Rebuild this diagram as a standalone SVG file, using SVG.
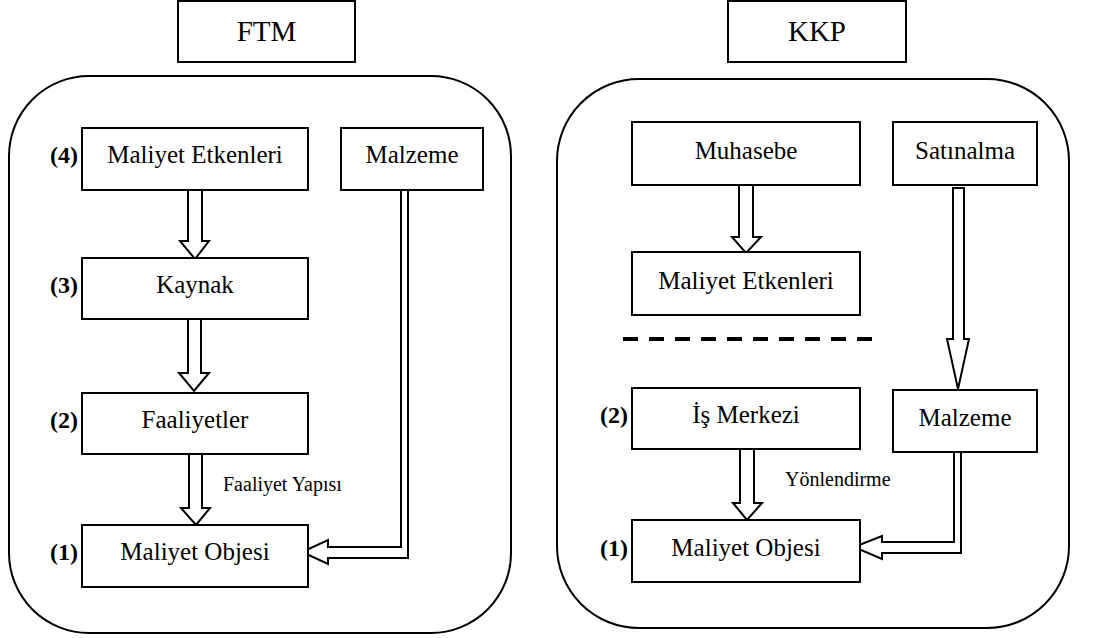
<svg xmlns="http://www.w3.org/2000/svg" width="1106" height="638" viewBox="0 0 1106 638">
  <style>
    .box { fill: #fff; stroke: #000; stroke-width: 2; }
    .panel { fill: none; stroke: #000; stroke-width: 2; }
    .arrow { fill: #fff; stroke: #000; stroke-width: 2; stroke-linejoin: miter; }
    text { font-family: 'Liberation Serif', Tinos, 'Times New Roman', 'DejaVu Serif', 'Noto Serif', serif; fill: #000; }
    .txt { font-size: 25px; text-anchor: middle; }
    .title { font-size: 29px; text-anchor: middle; }
    .num { font-size: 24px; font-weight: bold; text-anchor: end; }
    .note { font-size: 20px; }
  </style>
  <rect width="1106" height="638" fill="#fff"/>

  <!-- panel frames -->
  <g id="panels">
    <rect class="panel" x="9" y="76" width="502" height="557" rx="80" ry="80"/>
    <rect class="panel" x="557" y="79" width="512" height="549" rx="82" ry="82"/>
  </g>

  <!-- connectors -->
  <g id="connectors">
    <!-- FTM column -->
    <polygon class="arrow" points="188,190 202,190 202,241 209,241 195,259 180,241 188,241"/>
    <polygon class="arrow" points="188,319 201,319 201,373 209,373 194,391 179,373 188,373"/>
    <polygon class="arrow" points="189,454 202,454 202,508 210,508 196,525 181,508 189,508"/>
    <polygon class="arrow" points="401,190 401,547 328,547 328,540 302,552 328,564 328,558 408,558 408,190"/>
    <!-- KKP column -->
    <polygon class="arrow" points="739,185 753,185 753,237 761,237 746,253 732,237 739,237"/>
    <polygon class="arrow" points="953,188 964,188 964,339 969,339 958,389 947,339 953,339"/>
    <polygon class="arrow" points="740,449 754,449 754,503 762,503 747,520 733,503 740,503"/>
    <polygon class="arrow" points="954,452 954,542 882,542 882,536 854,547 882,559 882,553 961,553 961,452"/>
    <line x1="623" y1="339" x2="872" y2="339" stroke="#000" stroke-width="4" stroke-dasharray="15 11"/>
  </g>

  <!-- FTM side -->
  <g id="ftm-title">
    <rect class="box" x="178" y="1" width="177" height="61"/>
    <text class="title" x="266.5" y="41">FTM</text>
  </g>
  <g id="ftm-maliyet-etkenleri">
    <rect class="box" x="82" y="128" width="226" height="62"/>
    <text class="txt" x="195" y="163">Maliyet Etkenleri</text>
    <text class="num" x="78" y="163">(4)</text>
  </g>
  <g id="ftm-malzeme">
    <rect class="box" x="341" y="128" width="142" height="62"/>
    <text class="txt" x="412" y="163">Malzeme</text>
  </g>
  <g id="ftm-kaynak">
    <rect class="box" x="82" y="258" width="226" height="61"/>
    <text class="txt" x="195" y="293">Kaynak</text>
    <text class="num" x="78" y="293">(3)</text>
  </g>
  <g id="ftm-faaliyetler">
    <rect class="box" x="82" y="393" width="226" height="61"/>
    <text class="txt" x="195" y="428">Faaliyetler</text>
    <text class="num" x="78" y="428">(2)</text>
  </g>
  <g id="ftm-maliyet-objesi">
    <rect class="box" x="82" y="525" width="226" height="62"/>
    <text class="txt" x="195" y="560">Maliyet Objesi</text>
    <text class="num" x="78" y="560">(1)</text>
  </g>
  <text class="note" x="223" y="491">Faaliyet Yapısı</text>

  <!-- KKP side -->
  <g id="kkp-title">
    <rect class="box" x="728" y="1" width="178" height="61"/>
    <text class="title" x="817" y="41">KKP</text>
  </g>
  <g id="kkp-muhasebe">
    <rect class="box" x="632" y="122" width="228" height="63"/>
    <text class="txt" x="746" y="159">Muhasebe</text>
  </g>
  <g id="kkp-satinalma">
    <rect class="box" x="893" y="122" width="144" height="63"/>
    <text class="txt" x="965" y="159">Satınalma</text>
  </g>
  <g id="kkp-maliyet-etkenleri">
    <rect class="box" x="632" y="252" width="228" height="63"/>
    <text class="txt" x="746" y="289">Maliyet Etkenleri</text>
  </g>
  <g id="kkp-is-merkezi">
    <rect class="box" x="632" y="388" width="228" height="61"/>
    <text class="txt" x="746" y="423">İş Merkezi</text>
    <text class="num" x="628" y="423">(2)</text>
  </g>
  <g id="kkp-malzeme">
    <rect class="box" x="893" y="390" width="144" height="62"/>
    <text class="txt" x="965" y="426">Malzeme</text>
  </g>
  <g id="kkp-maliyet-objesi">
    <rect class="box" x="632" y="520" width="228" height="62"/>
    <text class="txt" x="746" y="556">Maliyet Objesi</text>
    <text class="num" x="628" y="556">(1)</text>
  </g>
  <text class="note" x="785" y="486">Yönlendirme</text>
</svg>
